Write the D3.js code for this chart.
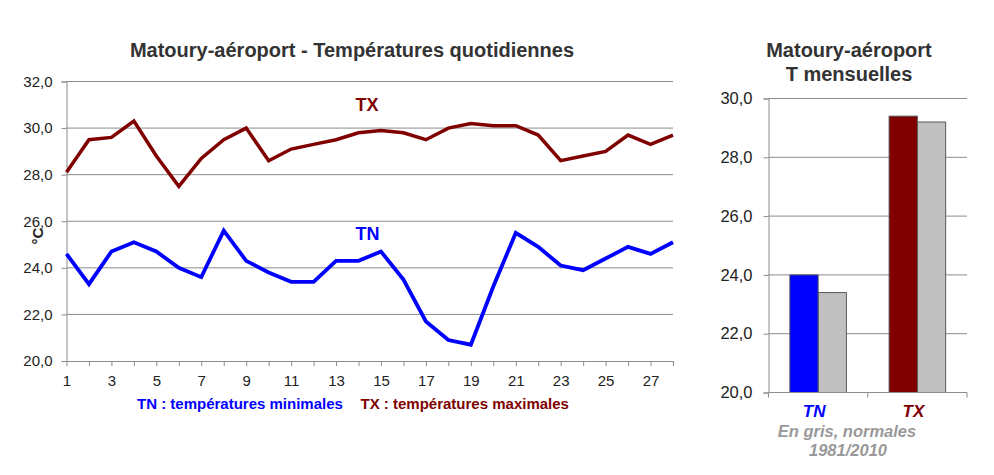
<!DOCTYPE html>
<html>
<head>
  <meta charset="utf-8">
  <title>Matoury-aéroport</title>
  <script src="https://d3js.org/d3.v7.min.js"></script>
  <style>
    body { margin: 0; padding: 0; background: white; }
    svg text { font-family: "Liberation Sans", Arial, sans-serif; }
    .grid line { stroke: #8c8c8c; stroke-width: 1; }
  </style>
</head>
<body>
  <div id="chart"></div>
  <script>
    // daily data
    var days = d3.range(1, 29);
    var tx = [28.1, 29.5, 29.6, 30.3, 28.8, 27.5, 28.7, 29.5, 30.0, 28.6, 29.1, 29.3, 29.5, 29.8,
              29.9, 29.8, 29.5, 30.0, 30.2, 30.1, 30.1, 29.7, 28.6, 28.8, 29.0, 29.7, 29.3, 29.7];
    var tn = [24.6, 23.3, 24.7, 25.1, 24.7, 24.0, 23.6, 25.6, 24.3, 23.8, 23.4, 23.4, 24.3, 24.3,
              24.7, 23.5, 21.7, 20.9, 20.7, 23.2, 25.5, 24.9, 24.1, 23.9, 24.4, 24.9, 24.6, 25.1];
    var dailyTicks = [20, 22, 24, 26, 28, 30, 32];

    // monthly data
    var monthCats = ["TN", "TX"];
    var monthValues = [24.0, 29.4];
    var monthNormals = [23.4, 29.2];
    var monthTicks = [20, 22, 24, 26, 28, 30];

    var colTX = "#800000", colTN = "#0000ff", gridCol = "#8c8c8c";
    var fmt = function(d) { return d3.format(".1f")(d).replace(".", ","); };

    var svg = d3.select("#chart").append("svg")
      .attr("width", 994).attr("height", 475);

    // ---------- left chart : daily temperatures ----------
    var x = d3.scaleLinear().domain([1, 28]).range([66.5, 673]);
    var y = d3.scaleLinear().domain([20, 32]).range([361, 81.5]);

    var left = svg.append("g");

    left.append("g").attr("class", "grid")
      .selectAll("line").data(dailyTicks.slice(1)).enter().append("line")
        .attr("x1", x(1)).attr("x2", x(28))
        .attr("y1", function(d) { return y(d); }).attr("y2", function(d) { return y(d); });

    var yAxis = left.append("g")
      .attr("transform", "translate(" + x(1) + ",0)")
      .call(d3.axisLeft(y).tickValues(dailyTicks).tickFormat(fmt).tickSize(5).tickPadding(9));
    yAxis.select(".domain").attr("stroke", gridCol);
    yAxis.selectAll(".tick line").attr("stroke", gridCol);
    yAxis.selectAll("text").attr("font-size", "15px").attr("fill", "#222");

    var xAxis = left.append("g")
      .attr("transform", "translate(0," + y(20) + ")")
      .call(d3.axisBottom(x).tickValues(days)
        .tickFormat(function(d) { return d % 2 === 1 ? d : ""; })
        .tickSize(5).tickPadding(9).tickSizeOuter(0));
    xAxis.select(".domain").attr("stroke", gridCol);
    xAxis.selectAll(".tick line").attr("stroke", gridCol);
    xAxis.selectAll("text").attr("font-size", "15px").attr("fill", "#222");

    var line = d3.line()
      .x(function(d, i) { return x(days[i]); })
      .y(function(d) { return y(d); });

    left.append("path").datum(tx).attr("d", line)
      .attr("fill", "none").attr("stroke", colTX).attr("stroke-width", 3.5)
      .attr("stroke-linejoin", "miter");
    left.append("path").datum(tn).attr("d", line)
      .attr("fill", "none").attr("stroke", colTN).attr("stroke-width", 3.8)
      .attr("stroke-linejoin", "miter");

    left.append("text").attr("x", 367).attr("y", 110.5).attr("text-anchor", "middle")
      .attr("font-size", "18px").attr("font-weight", "bold").attr("fill", colTX).text("TX");
    left.append("text").attr("x", 367.5).attr("y", 240).attr("text-anchor", "middle")
      .attr("font-size", "18px").attr("font-weight", "bold").attr("fill", colTN).text("TN");

    left.append("text").attr("x", 352).attr("y", 56.5).attr("text-anchor", "middle")
      .attr("font-size", "20px").attr("font-weight", "bold").attr("fill", "#333")
      .text("Matoury-aéroport - Températures quotidiennes");

    left.append("text").attr("transform", "translate(43,236) rotate(-90)")
      .attr("text-anchor", "middle").attr("font-size", "15px").attr("font-weight", "bold")
      .attr("fill", "#222").text("°C");

    left.append("text").attr("x", 137).attr("y", 408.5)
      .attr("font-size", "15px").attr("font-weight", "bold").attr("fill", colTN)
      .text("TN : températures minimales");
    left.append("text").attr("x", 360.5).attr("y", 408.5)
      .attr("font-size", "15px").attr("font-weight", "bold").attr("fill", colTX)
      .text("TX : températures maximales");

    // ---------- right chart : monthly temperatures ----------
    var x0 = d3.scaleBand().domain(monthCats).range([768.5, 967])
      .paddingInner(0.43).paddingOuter(0.215);
    var y2 = d3.scaleLinear().domain([20, 30]).range([392.5, 98.5]);

    var right = svg.append("g");

    right.append("g").attr("class", "grid")
      .selectAll("line").data(monthTicks.slice(1)).enter().append("line")
        .attr("x1", 768.5).attr("x2", 967)
        .attr("y1", function(d) { return y2(d); }).attr("y2", function(d) { return y2(d); });

    var bw = x0.bandwidth() / 2;
    right.selectAll(".norm").data(monthNormals).enter().append("rect")
      .attr("x", function(d, i) { return x0(monthCats[i]) + bw; })
      .attr("y", function(d) { return y2(d); })
      .attr("width", bw).attr("height", function(d) { return y2(20) - y2(d); })
      .attr("fill", "#c0c0c0").attr("stroke", "#5a5a5a").attr("stroke-width", 1);
    right.selectAll(".obs").data(monthValues).enter().append("rect")
      .attr("x", function(d, i) { return x0(monthCats[i]); })
      .attr("y", function(d) { return y2(d); })
      .attr("width", bw).attr("height", function(d) { return y2(20) - y2(d); })
      .attr("fill", function(d, i) { return i === 0 ? colTN : colTX; })
      .attr("stroke", "#5a5a5a").attr("stroke-width", 1);

    var y2Axis = right.append("g")
      .attr("transform", "translate(768.5,0)")
      .call(d3.axisLeft(y2).tickValues(monthTicks).tickFormat(fmt).tickSize(5).tickPadding(11));
    y2Axis.select(".domain").attr("stroke", gridCol);
    y2Axis.selectAll(".tick line").attr("stroke", gridCol);
    y2Axis.selectAll("text").attr("font-size", "16.5px").attr("fill", "#222");

    // category boundary ticks
    var bounds = [768.5, (768.5 + 967) / 2, 967];
    right.append("line").attr("x1", 768.5).attr("x2", 967)
      .attr("y1", y2(20)).attr("y2", y2(20)).attr("stroke", gridCol);
    right.selectAll(".bt").data(bounds).enter().append("line")
      .attr("x1", function(d) { return d; }).attr("x2", function(d) { return d; })
      .attr("y1", y2(20)).attr("y2", y2(20) + 5).attr("stroke", gridCol);

    right.selectAll(".cat").data(monthCats).enter().append("text")
      .attr("x", function(d) { return x0(d) + x0.bandwidth() / 2 - 4; })
      .attr("y", 417)
      .attr("text-anchor", "middle").attr("font-size", "17px")
      .attr("font-weight", "bold").attr("font-style", "italic")
      .attr("fill", function(d, i) { return i === 0 ? colTN : colTX; })
      .text(function(d) { return d; });

    right.append("text").attr("x", 847).attr("y", 437).attr("text-anchor", "middle")
      .attr("font-size", "16.5px").attr("font-weight", "bold").attr("font-style", "italic")
      .attr("fill", "#999").text("En gris, normales");
    right.append("text").attr("x", 848).attr("y", 456).attr("text-anchor", "middle")
      .attr("font-size", "16.5px").attr("font-weight", "bold").attr("font-style", "italic")
      .attr("fill", "#999").text("1981/2010");

    right.append("text").attr("x", 849).attr("y", 56.5).attr("text-anchor", "middle")
      .attr("font-size", "20px").attr("font-weight", "bold").attr("fill", "#333")
      .text("Matoury-aéroport");
    right.append("text").attr("x", 849).attr("y", 81).attr("text-anchor", "middle")
      .attr("font-size", "20px").attr("font-weight", "bold").attr("fill", "#333")
      .text("T mensuelles");
  </script>
</body>
</html>
